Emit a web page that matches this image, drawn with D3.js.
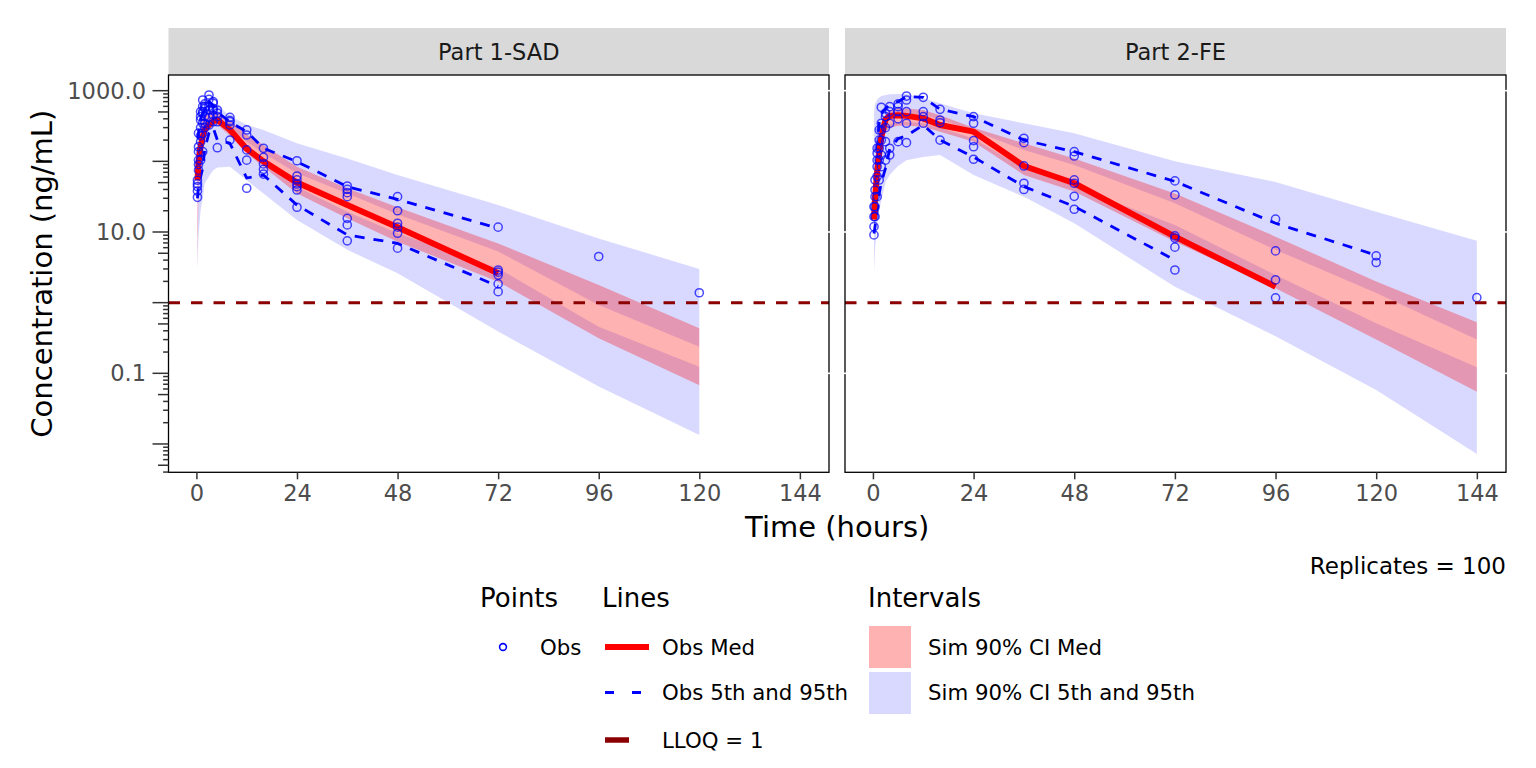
<!DOCTYPE html>
<html>
<head>
<meta charset="utf-8">
<script src="https://cdn.jsdelivr.net/npm/d3@7"></script>
<style>
body { margin: 0; background: #ffffff; }
svg { font-family: "DejaVu Sans", sans-serif; }
</style>
</head>
<body>
<script>
// ---- data ----
var panelNames = ["Part 1-SAD", "Part 2-FE"];

var xTickValues = [0, 24, 48, 72, 96, 120, 144];
var yTickValues = [1000, 10, 0.1];
var yTickLabels = ["1000.0", "10.0", "0.1"];
var lloq = 1;
var replicates = 100;

// Part 1-SAD simulated intervals
var simTime1 = [0.25, 0.5, 1, 1.5, 2, 3, 4, 5, 8, 12, 16, 24, 36, 48, 72, 96, 120];
var p95Hi1 = [200, 350, 480, 560, 620, 650, 660, 620, 440, 330, 278, 180, 110, 64, 24.1, 8.1, 3.0];
var p95Lo1 = [30, 100, 220, 300, 350, 400, 420, 400, 300, 190, 130, 68, 35, 17.8, 5.3, 0.93, 0.238];
var medHi1 = [50, 150, 300, 400, 450, 500, 520, 500, 380, 240, 170, 84, 41.6, 22.4, 6.9, 1.78, 0.434];
var medLo1 = [3, 40, 120, 200, 260, 320, 340, 330, 230, 130, 84, 35, 15.6, 7.3, 1.98, 0.313, 0.068];
var p5Hi1 = [15, 60, 160, 240, 290, 350, 370, 360, 270, 160, 110, 43.8, 19.4, 9.6, 3.06, 0.457, 0.124];
var p5Lo1 = [3, 8.6, 20, 30, 49, 61, 75, 82, 84, 54, 35, 14.8, 5.6, 2.6, 0.39, 0.065, 0.0134];

// Part 1-SAD observed percentiles
var obsBin1 = [0.25, 0.5, 1, 1.5, 2, 3, 4, 5, 8, 12, 16, 24, 36, 48, 72];
var obsMed1 = [54, 95, 161, 220, 280, 327, 370, 385, 280, 150, 100, 50, 24.1, 11.7, 2.6];
var obsP95_1 = [60, 250, 400, 480, 550, 700, 620, 500, 360, 263, 153, 99, 43.8, 29, 11.3];
var obsP5_1 = [30, 45, 60, 80, 150, 250, 300, 200, 180, 58, 64, 24.1, 9.1, 6.9, 1.7];

// Part 1-SAD observations
var obsTime1 = [0.25, 0.5, 1, 1.5, 2, 3, 4, 5, 8, 12, 16, 24, 36, 48, 72, 96, 120];
var obsConc1 = [
    [31, 44, 54, 38, 48],
    [75, 104, 137, 161, 250, 90],
    [104, 190, 385, 429, 505, 230, 300],
    [137, 250, 346, 479, 505, 600, 738],
    [300, 346, 430, 560, 594, 650],
    [327, 420, 533, 600, 755, 869],
    [364, 450, 563, 663, 700, 533],
    [156, 364, 429, 533, 480],
    [200, 327, 364, 420, 380],
    [41.6, 104, 145, 236, 278],
    [66, 77, 92, 114, 153],
    [22.4, 39.3, 43.8, 47.8, 54.5, 62, 102],
    [7.5, 12.6, 15.6, 31.6, 36, 40.2, 44.8],
    [5.9, 9.6, 11.7, 13.3, 20, 31.6],
    [1.43, 1.84, 2.46, 2.9, 2.7, 11.7],
    [4.5],
    [1.38]
];

// Part 2-FE simulated intervals
var simTime2 = [0.25, 0.5, 1, 1.5, 2, 3, 4, 6, 8, 12, 16, 24, 36, 48, 72, 96, 120, 144];
var p95Hi2 = [500, 650, 750, 800, 840, 870, 890, 900, 900, 780, 663, 479, 346, 250, 100, 51, 19.4, 7.5];
var p95Lo2 = [15, 40, 110, 200, 280, 380, 430, 470, 480, 450, 390, 270, 145, 89, 25.5, 5.6, 1.37, 0.3];
var medHi2 = [25, 60, 150, 260, 340, 460, 520, 560, 560, 532, 450, 300, 180, 110, 35, 8.6, 2.0, 0.53];
var medLo2 = [9, 22, 60, 110, 170, 260, 300, 320, 320, 309, 263, 190, 64, 37.4, 7.3, 1.6, 0.3, 0.055];
var p5Hi2 = [12, 30, 80, 150, 210, 300, 340, 360, 360, 350, 300, 210, 80, 44, 12.6, 2.46, 0.51, 0.122];
var p5Lo2 = [2.6, 5.6, 12.6, 20, 28, 51, 64, 86, 104, 115, 123, 64, 31.6, 13.3, 1.68, 0.335, 0.058, 0.0072];

// Part 2-FE observed percentiles (null = not drawn)
var obsBin2 = [0.25, 0.5, 1, 1.5, 2, 3, 4, 6, 8, 12, 16, 24, 36, 48, 72, 96, 120];
var obsMed2 = [15, 30, 70, 130, 220, 390, 440, 450, 440, 406, 327, 263, 86, 49, 8.6, 1.68, null];
var obsP95_2 = [22, 45, 140, 350, 480, 560, 640, 700, 822, 806, 545, 429, 200, 137, 52, 13.3, 4.7];
var obsP5_2 = [9.5, 12, 20, 35, 50, 80, 150, 210, 230, 327, 200, 115, 44, 23, 4.0, null, null];

// Part 2-FE observations
var obsTime2 = [0.25, 0.5, 1, 1.5, 2, 3, 4, 6, 8, 12, 16, 24, 36, 48, 72, 96, 120, 144];
var obsConc2 = [
    [9.1, 11.9, 16.5, 22.8],
    [16.5, 22.8, 31.6, 39.3, 54.5],
    [31.6, 61, 84, 104, 130, 153],
    [54.5, 104, 153, 200, 278],
    [84, 123, 200, 278, 346, 582],
    [104, 190, 300, 429, 479],
    [123, 153, 346, 505, 594],
    [190, 400, 505, 594, 650],
    [184, 346, 505, 738, 840],
    [346, 429, 505, 806],
    [200, 352, 385, 545],
    [107, 161, 196, 346, 429],
    [40, 49, 86, 184, 212],
    [21, 32, 49, 54.5, 119, 137],
    [2.9, 6.1, 8.2, 8.8, 33.5, 52.8],
    [1.17, 2.1, 5.4, 15.2],
    [3.7, 4.6],
    [1.18]
];

var panelData = [
    { sim: [simTime1, p95Hi1, p95Lo1, medHi1, medLo1, p5Hi1, p5Lo1],
      obs: [obsBin1, obsMed1, obsP95_1, obsP5_1], pts: [obsTime1, obsConc1] },
    { sim: [simTime2, p95Hi2, p95Lo2, medHi2, medLo2, p5Hi2, p5Lo2],
      obs: [obsBin2, obsMed2, obsP95_2, obsP5_2], pts: [obsTime2, obsConc2] }
];

// ---- layout ----
var panelTop = 75;
var panelBottom = 472.3;
var panelLeft = [168.5, 845];
var panelRight = [829, 1506];
var stripTop = 28;

var svg = d3.select("body").append("svg")
    .attr("width", 1536)
    .attr("height", 768);

// log y scale shared by both panels
var y = d3.scaleLog()
    .domain([Math.pow(10, -2.401), Math.pow(10, 3.222)])
    .range([panelBottom, panelTop]);

function draw_panel(p)
{
    let x0 = panelLeft[p], x1 = panelRight[p];
    let x = d3.scaleLinear().domain([-6.66, 150.95]).range([x0, x1]);
    let d = panelData[p];

    // strip
    svg.append("rect")
    .attr("x", x0).attr("y", stripTop)
    .attr("width", x1 - x0).attr("height", panelTop - stripTop)
    .style("fill", "#d9d9d9");

    svg.append("text")
    .text(panelNames[p])
    .attr("x", (x0 + x1) / 2)
    .attr("y", (stripTop + panelTop) / 2)
    .attr("dy", "0.36em")
    .attr("text-anchor", "middle")
    .style("font-size", "22.5px")
    .style("fill", "#1a1a1a");

    svg.append("clipPath").attr("id", "clip" + p)
    .append("rect")
    .attr("x", x0).attr("y", panelTop)
    .attr("width", x1 - x0).attr("height", panelBottom - panelTop);

    let g = svg.append("g").attr("clip-path", "url(#clip" + p + ")");

    // simulated intervals
    let t = d.sim[0];
    let idx = d3.range(t.length);
    let band = function(hi, lo) {
        return d3.area()
        .x(function(i) { return x(t[i]); })
        .y0(function(i) { return y(lo[i]); })
        .y1(function(i) { return y(hi[i]); });
    };

    g.append("path").datum(idx)
    .attr("d", band(d.sim[1], d.sim[2]))
    .style("fill", "blue").style("fill-opacity", 0.15);

    g.append("path").datum(idx)
    .attr("d", band(d.sim[5], d.sim[6]))
    .style("fill", "blue").style("fill-opacity", 0.15);

    g.append("path").datum(idx)
    .attr("d", band(d.sim[3], d.sim[4]))
    .style("fill", "red").style("fill-opacity", 0.3);

    // observed percentile lines
    let ob = d.obs[0];
    let obsLine = function(vals) {
        return d3.line()
        .defined(function(i) { return vals[i] != null; })
        .x(function(i) { return x(ob[i]); })
        .y(function(i) { return y(vals[i]); });
    };
    let oidx = d3.range(ob.length);

    g.append("path").datum(oidx)
    .attr("d", obsLine(d.obs[2]))
    .style("fill", "none").style("stroke", "blue")
    .style("stroke-width", 2.8).style("stroke-dasharray", "10,9");

    g.append("path").datum(oidx)
    .attr("d", obsLine(d.obs[3]))
    .style("fill", "none").style("stroke", "blue")
    .style("stroke-width", 2.8).style("stroke-dasharray", "10,9");

    g.append("path").datum(oidx)
    .attr("d", obsLine(d.obs[1]))
    .style("fill", "none").style("stroke", "red")
    .style("stroke-width", 6).style("stroke-linejoin", "round");

    // observations
    let pts = [];
    d.pts[0].forEach(function(tt, i) {
        d.pts[1][i].forEach(function(c) { pts.push([tt, c]); });
    });

    g.selectAll(".obs" + p)
    .data(pts)
    .enter().append("circle")
    .attr("class", "obs" + p)
    .attr("cx", function(pt) { return x(pt[0]); })
    .attr("cy", function(pt) { return y(pt[1]); })
    .attr("r", 4.1)
    .style("fill", "none").style("stroke", "blue")
    .style("stroke-width", 1.5).style("stroke-opacity", 0.7);

    // LLOQ
    g.append("line")
    .attr("x1", x0).attr("x2", x1)
    .attr("y1", y(lloq)).attr("y2", y(lloq))
    .style("stroke", "#8b0000").style("stroke-width", 3)
    .style("stroke-dasharray", "11.5,11");

    // panel border
    svg.append("rect")
    .attr("x", x0).attr("y", panelTop)
    .attr("width", x1 - x0).attr("height", panelBottom - panelTop)
    .style("fill", "none").style("stroke", "#000").style("stroke-width", 1.3);

    // small white break marks on the inner borders
    let edges = p == 0 ? [x1] : [x0, x1];
    edges.forEach(function(ex) {
        yTickValues.forEach(function(v) {
            svg.append("line")
            .attr("x1", ex - 1.5).attr("x2", ex + 1.5)
            .attr("y1", y(v)).attr("y2", y(v))
            .style("stroke", "#fff").style("stroke-width", 1.6);
        });
    });

    // x axis
    let xAxis = d3.axisBottom(x)
    .tickValues(xTickValues)
    .tickSize(7)
    .tickPadding(6);

    let ax = svg.append("g")
    .attr("transform", "translate(0," + panelBottom + ")")
    .call(xAxis);
    ax.select(".domain").remove();
    ax.selectAll("line").style("stroke", "#333").style("stroke-width", 1.5);
    ax.selectAll("text")
    .style("font-size", "22.5px").style("fill", "#4d4d4d")
    .style("font-family", "DejaVu Sans, sans-serif");
}

function draw_y_axis()
{
    let axX = panelLeft[0];

    // log ticks: long at decades, medium at 5s, short elsewhere
    let logTicks = [];
    for (let k = -3; k <= 3; k++) {
        for (let m = 1; m <= 9; m++) {
            let v = m * Math.pow(10, k);
            if (v >= y.domain()[0] && v <= y.domain()[1]) logTicks.push([v, m]);
        }
    }

    svg.selectAll(".logtick")
    .data(logTicks)
    .enter().append("line")
    .attr("class", "logtick")
    .attr("x1", function(tk) { return axX - (tk[1] == 1 ? 16 : (tk[1] == 5 ? 10.5 : 5.4)); })
    .attr("x2", axX)
    .attr("y1", function(tk) { return y(tk[0]); })
    .attr("y2", function(tk) { return y(tk[0]); })
    .style("stroke", "#333").style("stroke-width", 1.5);

    svg.selectAll(".ylabel")
    .data(yTickValues)
    .enter().append("text")
    .attr("class", "ylabel")
    .text(function(v, i) { return yTickLabels[i]; })
    .attr("x", 146)
    .attr("y", function(v) { return y(v); })
    .attr("dy", "0.36em")
    .attr("text-anchor", "end")
    .style("font-size", "22.5px").style("fill", "#4d4d4d");

    svg.append("text")
    .text("Concentration (ng/mL)")
    .attr("transform", "translate(51.5," + ((panelTop + panelBottom) / 2) + ") rotate(-90)")
    .attr("text-anchor", "middle")
    .style("font-size", "29px").style("fill", "#000");
}

function draw_titles()
{
    svg.append("text")
    .text("Time (hours)")
    .attr("x", (panelLeft[0] + panelRight[1]) / 2)
    .attr("y", 537)
    .attr("text-anchor", "middle")
    .style("font-size", "29px").style("fill", "#000");

    svg.append("text")
    .text("Replicates = " + replicates)
    .attr("x", panelRight[1])
    .attr("y", 574)
    .attr("text-anchor", "end")
    .style("font-size", "23px").style("fill", "#000");
}

function draw_legend()
{
    let titleY = 606.5;
    let rows = [647, 692.5, 740];

    let titles = [["Points", 480], ["Lines", 602], ["Intervals", 868]];
    titles.forEach(function(tt) {
        svg.append("text").text(tt[0])
        .attr("x", tt[1]).attr("y", titleY)
        .style("font-size", "26px").style("fill", "#000");
    });

    let label = function(txt, lx, ly) {
        svg.append("text").text(txt)
        .attr("x", lx).attr("y", ly).attr("dy", "0.36em")
        .style("font-size", "21.3px").style("fill", "#000");
    };

    // points
    svg.append("circle")
    .attr("cx", 503).attr("cy", rows[0]).attr("r", 3.4)
    .style("fill", "none").style("stroke", "blue").style("stroke-width", 1.6);
    label("Obs", 540, rows[0]);

    // lines
    svg.append("line")
    .attr("x1", 605).attr("x2", 649).attr("y1", rows[0]).attr("y2", rows[0])
    .style("stroke", "red").style("stroke-width", 6);
    label("Obs Med", 662, rows[0]);

    svg.append("line")
    .attr("x1", 605).attr("x2", 649).attr("y1", rows[1]).attr("y2", rows[1])
    .style("stroke", "blue").style("stroke-width", 3).style("stroke-dasharray", "9,18");
    label("Obs 5th and 95th", 662, rows[1]);

    svg.append("line")
    .attr("x1", 605).attr("x2", 629).attr("y1", rows[2]).attr("y2", rows[2])
    .style("stroke", "#8b0000").style("stroke-width", 5.5);
    label("LLOQ = " + lloq, 662, rows[2]);

    // intervals
    svg.append("rect")
    .attr("x", 869).attr("y", 626).attr("width", 42).attr("height", 42)
    .style("fill", "red").style("fill-opacity", 0.3);
    label("Sim 90% CI Med", 928, rows[0]);

    svg.append("rect")
    .attr("x", 869).attr("y", 672).attr("width", 42).attr("height", 42)
    .style("fill", "blue").style("fill-opacity", 0.15);
    label("Sim 90% CI 5th and 95th", 928, rows[1]);
}

draw_panel(0);
draw_panel(1);
draw_y_axis();
draw_titles();
draw_legend();
</script>
</body>
</html>
